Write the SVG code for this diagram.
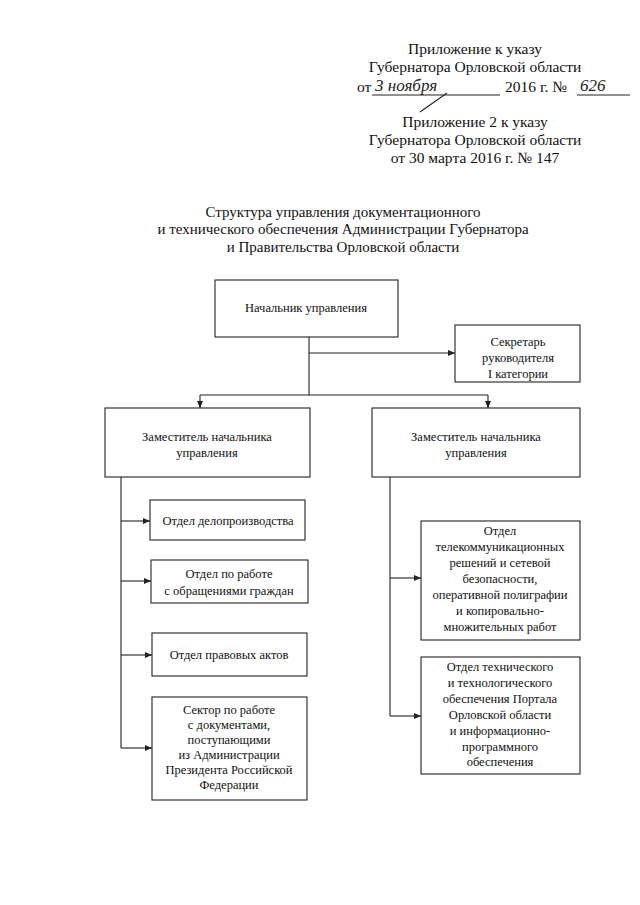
<svg xmlns="http://www.w3.org/2000/svg" width="640" height="905" viewBox="0 0 640 905" font-family="'Liberation Serif', 'DejaVu Serif', serif">
<style>
text{font-family:'Liberation Serif','Tinos','Noto Serif','DejaVu Serif',serif;fill:#111}
.h{font-size:15.5px;text-anchor:middle}
.t{font-size:15px;text-anchor:middle}
.b{font-size:12.5px;text-anchor:middle}
.hw{font-style:italic;font-size:17px;fill:#222}
.n{fill:#fff;stroke:#222;stroke-width:1.1}
.c{fill:none;stroke:#222;stroke-width:1.1}
</style>
<defs>
<marker id="ar" markerWidth="8" markerHeight="8" refX="7" refY="4" orient="auto" markerUnits="userSpaceOnUse">
<path d="M0,1 L7,4 L0,7 Z" fill="#222"/>
</marker>
</defs>
<rect width="640" height="905" fill="#fff"/>

<g id="header">
<text class="h" x="475" y="54">Приложение к указу</text>
<text class="h" x="475" y="72">Губернатора Орловской области</text>
<text class="h" x="357" y="92" style="text-anchor:start">от</text>
<line x1="372" y1="95" x2="500" y2="95" class="c"/>
<text class="hw" x="375" y="91">3 ноября</text>
<text class="h" x="505" y="92" style="text-anchor:start">2016 г. №</text>
<line x1="577" y1="95" x2="630" y2="95" class="c"/>
<text class="hw" x="580" y="91">626</text>
<path d="M447,93 L420,112" class="c" stroke-width="0.8"/>
<text class="h" x="475" y="127">Приложение 2 к указу</text>
<text class="h" x="475" y="145">Губернатора Орловской области</text>
<text class="h" x="475" y="163">от 30 марта 2016 г. № 147</text>
</g>

<g id="title">
<text class="t" x="343" y="217">Структура управления документационного</text>
<text class="t" x="343" y="234">и технического обеспечения Администрации Губернатора</text>
<text class="t" x="343" y="252">и Правительства Орловской области</text>
</g>

<g id="connectors">
<line x1="309" y1="337" x2="309" y2="395" class="c"/>
<line x1="309" y1="353" x2="455" y2="353" class="c" marker-end="url(#ar)"/>
<line x1="200" y1="395" x2="488" y2="395" class="c"/>
<line x1="200" y1="395" x2="200" y2="408" class="c" marker-end="url(#ar)"/>
<line x1="488" y1="395" x2="488" y2="408" class="c" marker-end="url(#ar)"/>
<line x1="121" y1="477" x2="121" y2="748" class="c"/>
<line x1="121" y1="521" x2="150" y2="521" class="c" marker-end="url(#ar)"/>
<line x1="121" y1="581" x2="151" y2="581" class="c" marker-end="url(#ar)"/>
<line x1="121" y1="655" x2="152" y2="655" class="c" marker-end="url(#ar)"/>
<line x1="121" y1="748" x2="152" y2="748" class="c" marker-end="url(#ar)"/>
<line x1="390" y1="477" x2="390" y2="716" class="c"/>
<line x1="390" y1="578" x2="421" y2="578" class="c" marker-end="url(#ar)"/>
<line x1="390" y1="716" x2="421" y2="716" class="c" marker-end="url(#ar)"/>
</g>

<g id="head">
<rect class="n" x="215" y="280" width="183" height="57"/>
<text class="b" x="306" y="312">Начальник управления</text>
</g>

<g id="secretary">
<rect class="n" x="455" y="325" width="125" height="57"/>
<text class="b" x="518" y="346">Секретарь</text>
<text class="b" x="518" y="362">руководителя</text>
<text class="b" x="518" y="378">I категории</text>
</g>

<g id="deputy-left">
<rect class="n" x="105" y="408" width="205" height="69"/>
<text class="b" x="207" y="441">Заместитель начальника</text>
<text class="b" x="207" y="457">управления</text>
</g>

<g id="deputy-right">
<rect class="n" x="372" y="408" width="208" height="69"/>
<text class="b" x="476" y="441">Заместитель начальника</text>
<text class="b" x="476" y="457">управления</text>
</g>

<g id="dept-records">
<rect class="n" x="150" y="500" width="155" height="40"/>
<text class="b" x="228" y="525">Отдел делопроизводства</text>
</g>

<g id="dept-citizens">
<rect class="n" x="151" y="560" width="157" height="43"/>
<text class="b" x="229" y="578">Отдел по работе</text>
<text class="b" x="229" y="595">с обращениями граждан</text>
</g>

<g id="dept-legal">
<rect class="n" x="152" y="633" width="155" height="43"/>
<text class="b" x="229" y="659">Отдел правовых актов</text>
</g>

<g id="sector-president">
<rect class="n" x="152" y="697" width="155" height="103"/>
<text class="b" x="229" y="714">Сектор по работе</text>
<text class="b" x="229" y="729">с документами,</text>
<text class="b" x="229" y="744">поступающими</text>
<text class="b" x="229" y="759">из Администрации</text>
<text class="b" x="229" y="774">Президента Российской</text>
<text class="b" x="229" y="789">Федерации</text>
</g>

<g id="dept-telecom">
<rect class="n" x="421" y="521" width="159" height="119"/>
<text class="b" x="500" y="535">Отдел</text>
<text class="b" x="500" y="551">телекоммуникационных</text>
<text class="b" x="500" y="567">решений и сетевой</text>
<text class="b" x="500" y="583">безопасности,</text>
<text class="b" x="500" y="599">оперативной полиграфии</text>
<text class="b" x="500" y="615">и копировально-</text>
<text class="b" x="500" y="631">множительных работ</text>
</g>

<g id="dept-portal">
<rect class="n" x="421" y="657" width="159" height="117"/>
<text class="b" x="500" y="671">Отдел технического</text>
<text class="b" x="500" y="687">и технологического</text>
<text class="b" x="500" y="703">обеспечения Портала</text>
<text class="b" x="500" y="719">Орловской области</text>
<text class="b" x="500" y="735">и информационно-</text>
<text class="b" x="500" y="751">программного</text>
<text class="b" x="500" y="766">обеспечения</text>
</g>
</svg>
